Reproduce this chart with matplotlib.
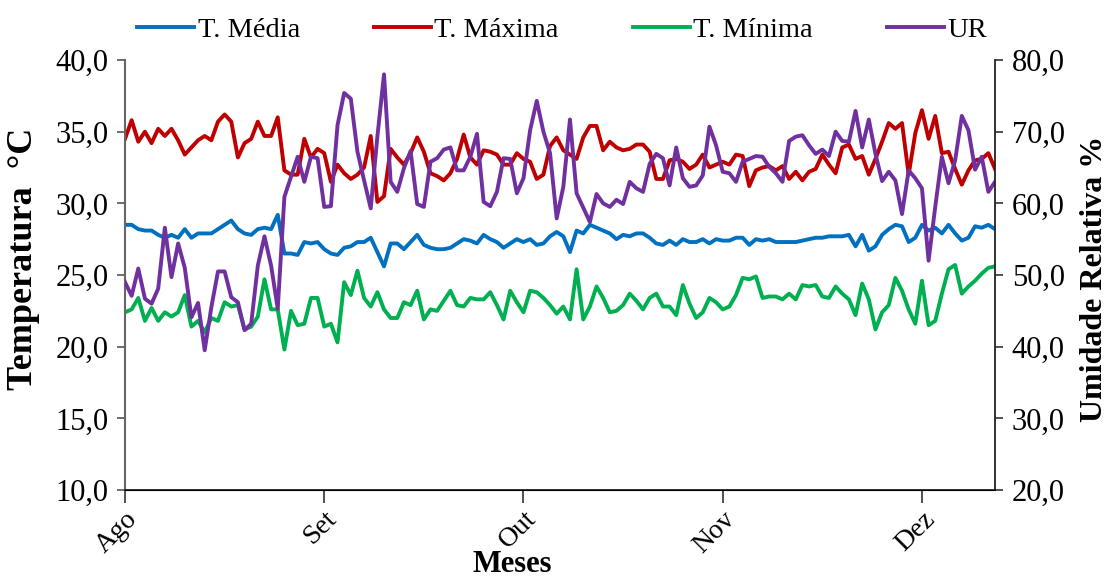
import matplotlib
matplotlib.use("Agg")
import matplotlib.pyplot as plt
from matplotlib.ticker import FuncFormatter, MultipleLocator
import numpy as np

# Daily series, 1 Aug to mid-Dec
t_max = [34.5, 35.8, 34.3, 35.0, 34.2, 35.2, 34.7, 35.2, 34.4, 33.4, 33.9, 34.4, 34.7, 34.4, 35.7, 36.2, 35.7,
         33.2, 34.2, 34.5, 35.7, 34.7, 34.7, 36.0, 32.3, 32.0, 32.0, 34.5, 33.2, 33.8, 33.5, 31.5, 32.7, 32.1,
         31.7, 32.0, 32.5, 34.7, 30.1, 30.5, 33.8, 33.2, 32.7, 33.5, 34.6, 33.6, 32.1, 31.9, 31.6, 32.1, 33.1,
         34.8, 33.2, 32.7, 33.7, 33.6, 33.4, 32.7, 32.7, 33.5, 33.1, 32.9, 31.7,
         32.0, 34.0, 34.6, 33.7, 33.4, 33.1, 34.6, 35.4, 35.4, 33.7, 34.3, 33.9, 33.7, 33.8, 34.1, 34.1, 33.6,
         31.7, 31.7, 33.0, 33.1, 32.9, 32.4, 32.7, 33.4, 32.5, 32.7, 32.9, 32.7, 33.4,
         33.3, 31.2, 32.3, 32.5, 32.6, 32.3, 32.6, 31.7, 32.2, 31.6, 32.2, 32.4, 33.4, 32.7, 32.1, 33.9, 34.1,
         33.1, 33.3, 32.0, 33.1, 34.3, 35.6, 35.2, 35.6, 32.0, 34.9, 36.5, 34.5, 36.1, 33.5, 33.6, 32.4, 31.3,
         32.3, 33.0, 33.1, 33.5, 32.4]

t_media = [28.5, 28.5, 28.2, 28.1, 28.1, 27.8, 27.6, 27.8, 27.6, 28.2, 27.6, 27.9, 27.9, 27.9, 28.2, 28.5, 28.8,
           28.2, 27.9, 27.8, 28.2, 28.3, 28.2, 29.2, 26.5, 26.5, 26.4, 27.3, 27.2, 27.3, 26.8, 26.5, 26.4, 26.9,
           27.0, 27.3, 27.3, 27.6, 26.6, 25.6, 27.2, 27.2, 26.8, 27.3, 27.8, 27.1, 26.9, 26.8, 26.8, 26.9, 27.2,
           27.5, 27.4, 27.2, 27.8, 27.5, 27.3, 26.9, 27.2, 27.5, 27.3, 27.5, 27.1,
           27.2, 27.7, 28.0, 27.7, 26.6, 28.1, 27.9, 28.5, 28.3, 28.1, 27.9, 27.5, 27.8, 27.7, 27.9, 27.9, 27.6,
           27.2, 27.1, 27.4, 27.1, 27.5, 27.3, 27.3, 27.5, 27.2, 27.5, 27.4, 27.4, 27.6,
           27.6, 27.1, 27.5, 27.4, 27.5, 27.3, 27.3, 27.3, 27.3, 27.4, 27.5, 27.6, 27.6, 27.7, 27.7, 27.7, 27.8,
           27.0, 27.8, 26.7, 27.0, 27.8, 28.2, 28.5, 28.4, 27.3, 27.6, 28.5, 28.1, 28.3, 27.9, 28.5, 27.9, 27.4,
           27.6, 28.4, 28.3, 28.5, 28.2]

t_min = [22.4, 22.6, 23.4, 21.8, 22.7, 21.8, 22.4, 22.1, 22.4, 23.6, 21.4, 21.8, 21.0, 22.0, 21.8, 23.1, 22.8,
         22.9, 21.2, 21.4, 22.1, 24.7, 22.6, 22.6, 19.8, 22.5, 21.5, 21.6, 23.4, 23.4, 21.4, 21.6, 20.3, 24.5,
         23.6, 25.3, 23.4, 22.8, 23.8, 22.6, 22.0, 22.0, 23.1, 22.9, 23.9, 21.9, 22.6, 22.5, 23.2, 23.9, 22.9,
         22.8, 23.4, 23.3, 23.3, 23.8, 22.9, 21.9, 23.9, 23.1, 22.4, 23.9, 23.8,
         23.4, 22.9, 22.3, 22.8, 21.9, 25.4, 21.9, 22.8, 24.2, 23.4, 22.4, 22.5, 22.9, 23.7, 23.2, 22.6, 23.4,
         23.7, 22.8, 22.8, 22.2, 24.3, 23.0, 22.0, 22.4, 23.4, 23.1, 22.6, 22.8, 23.6,
         24.8, 24.7, 24.9, 23.4, 23.5, 23.5, 23.3, 23.7, 23.3, 24.3, 24.2, 24.3, 23.5, 23.4, 24.2, 23.7, 23.3,
         22.2, 24.4, 23.3, 21.2, 22.4, 22.9, 24.8, 23.9, 22.6, 21.6, 24.6, 21.5, 21.8, 23.7, 25.4, 25.7, 23.7,
         24.2, 24.6, 25.1, 25.5, 25.6]

ur = [49.0, 47.1, 50.9, 46.7, 46.0, 48.1, 56.6, 49.7, 54.4, 51.0, 44.1, 46.1, 39.5, 45.5, 50.5, 50.5, 46.9,
      46.2, 42.3, 43.2, 51.3, 55.4, 51.3, 45.3, 60.9, 63.7, 66.5, 63.0, 66.5,
      66.3, 59.5, 59.6, 70.9, 75.4, 74.6, 67.2, 63.2, 59.3, 69.3, 78.0, 63.0, 61.6, 64.9, 67.3, 59.9, 59.5,
      65.8, 66.3, 67.5, 67.8, 64.6, 64.6, 66.5, 69.7, 60.2, 59.6, 61.6, 66.3, 66.2, 61.4, 63.5, 70.2, 74.3,
      70.0, 67.0, 57.9, 62.3, 71.7, 61.4, 59.4, 57.4, 61.3, 60.0, 59.5, 60.5, 59.9, 63.0, 62.1, 61.6, 65.5,
      66.9, 66.3, 62.5, 67.8, 63.5, 62.3, 62.5, 63.9, 70.7, 68.1, 64.4, 64.2, 63.0,
      65.8, 66.2, 66.6, 66.5, 65.1, 64.2, 63.0, 68.7, 69.3, 69.5, 68.1, 66.9, 67.5, 66.6, 70.0, 68.7, 68.6,
      72.9, 67.8, 71.7, 66.9, 63.1, 64.4, 63.2, 58.5, 64.6, 63.5, 62.1, 52.0, 59.5, 66.5, 62.8, 66.0, 72.2,
      70.2, 64.7, 66.5, 61.6, 63.0]

month_labels = ["Ago", "Set", "Out", "Nov", "Dez"]
month_ticks = [0, 30, 60, 90, 120]

plt.rcParams["font.family"] = ["Liberation Serif", "DejaVu Serif"]

fig = plt.figure(figsize=(11.1, 5.8), dpi=100)
ax = fig.add_axes([125 / 1110, 1 - 490 / 580, 870 / 1110, 430 / 580])
ax2 = ax.twinx()

days = np.arange(len(t_max))
lw = 2.8
l1, = ax.plot(days, t_media, color="#0070C0", lw=lw, label="T. Média")
l2, = ax.plot(days, t_max, color="#C00000", lw=lw, label="T. Máxima")
l3, = ax.plot(days, t_min, color="#00B050", lw=lw, label="T. Mínima")
l4, = ax2.plot(days, ur, color="#7030A0", lw=lw, label="UR")

ax.set_xlim(0, len(days) - 1)
ax.set_ylim(10, 40)
ax2.set_ylim(20, 80)
ax.yaxis.set_major_locator(MultipleLocator(5))
ax2.yaxis.set_major_locator(MultipleLocator(10))

fmt = FuncFormatter(lambda v, p: f"{v:.1f}".replace(".", ","))
ax.yaxis.set_major_formatter(fmt)
ax2.yaxis.set_major_formatter(fmt)

ax.set_xticks(month_ticks)
ax.set_xticklabels(month_labels, rotation=45, ha="right", rotation_mode="anchor",
                   fontsize=20)
ax.tick_params(axis="x", length=9, width=1.2, pad=3, color="#333333")
ax.tick_params(axis="y", labelsize=22, length=6, width=1.2, color="#555555", pad=6)
ax2.tick_params(axis="y", labelsize=22, length=6, width=1.2, color="#333333", pad=6)

for a in (ax, ax2):
    a.spines["top"].set_visible(False)
ax.spines["left"].set_color("#666666")
ax.spines["left"].set_linewidth(1.5)
ax2.spines["left"].set_visible(False)
ax2.spines["right"].set_color("#222222")
ax2.spines["right"].set_linewidth(1.3)
ax.spines["bottom"].set_color("#222222")
ax.spines["bottom"].set_linewidth(1.3)
ax.spines["right"].set_visible(False)

fig.text(24 / 1110, 1 - 259 / 580, "Temperatura  °C", rotation=90, ha="center", va="center",
         fontsize=26, fontweight="bold")
fig.text(1094 / 1110, 1 - 279 / 580, "Umidade Relativa %", rotation=90, ha="center", va="center",
         fontsize=23, fontweight="bold")
fig.text(512 / 1110, 0.5 / 580, "Meses", ha="center", va="bottom",
         fontsize=22, fontweight="bold")

fig.legend(handles=[l1, l2, l3, l4], loc="center", bbox_to_anchor=(562 / 1110, 1 - 30 / 580),
           ncol=4, frameon=False, fontsize=20.5, handlelength=2.0, handletextpad=0.12,
           columnspacing=2.6, borderaxespad=0)

fig.savefig("out.png", dpi=100)
